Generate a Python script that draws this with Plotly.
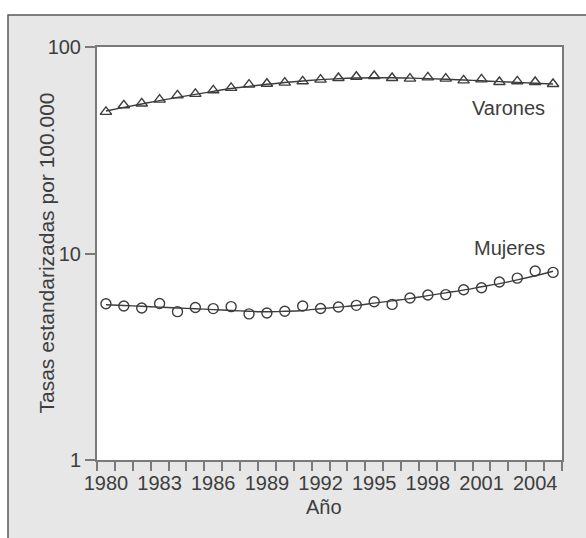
import plotly.graph_objects as go

# Standardised rates per 100,000 by year
years = list(range(1980, 2006))
varones = [48.5, 52.2, 53.3, 55.6, 58.3, 59.3, 61.7, 63.4, 65.7, 66.4, 67.2, 68.2, 69.5,
           70.8, 71.8, 72.4, 70.8, 70.3, 71.3, 70.3, 68.9, 69.7, 67.7, 68.2, 67.7, 66.2]
varones_trend = [49.0, 51.0, 53.0, 55.0, 57.0, 59.0, 61.0, 63.0, 64.5, 66.0, 67.3, 68.5, 69.5,
                 70.3, 70.8, 71.0, 71.0, 70.7, 70.3, 69.8, 69.2, 68.6, 68.0, 67.4, 66.8, 66.2]
mujeres = [5.71, 5.57, 5.45, 5.73, 5.23, 5.48, 5.41, 5.53, 5.10, 5.15, 5.25, 5.57, 5.42,
           5.51, 5.61, 5.84, 5.67, 6.09, 6.30, 6.32, 6.68, 6.83, 7.28, 7.60, 8.23, 8.10]
mujeres_trend = [5.65, 5.60, 5.55, 5.50, 5.45, 5.40, 5.35, 5.30, 5.25, 5.22, 5.25, 5.30, 5.40,
                 5.50, 5.60, 5.75, 5.90, 6.05, 6.25, 6.45, 6.65, 6.90, 7.15, 7.45, 7.80, 8.20]
xtick_years = list(range(1980, 2005, 3))
ytick_vals = [1, 10, 100]
ytick_text = ["1", "10", "100"]

W, H = 586, 538
ML, MR, MT, MB = 97, 24, 47, 78
PW, PH = W - ML - MR, H - MT - MB

INK = "#3d3d3d"
AXIS = "#7a7a7a"
FONT = "Liberation Sans, Arial, sans-serif"
FS = 20


def px_x(p):
    return (p - ML) / PW


def px_y(p):
    return (H - MB - p) / PH


fig = go.Figure()

for vals, trend, sym in [(varones, varones_trend, "triangle-up-open"),
                         (mujeres, mujeres_trend, "circle-open")]:
    fig.add_trace(go.Scatter(x=years, y=trend, mode="lines", line_shape="spline",
                             line=dict(color=INK, width=1.4), hoverinfo="skip",
                             showlegend=False))
    fig.add_trace(go.Scatter(x=years, y=vals, mode="markers",
                             marker=dict(symbol=sym, size=10, color=INK,
                                         line=dict(color=INK, width=1.4)),
                             showlegend=False))

shapes = [
    # grey panel behind the chart
    dict(type="rect", xref="paper", yref="paper", layer="below",
         x0=px_x(8), x1=px_x(W + 20), y0=px_y(H + 20), y1=px_y(15),
         fillcolor="#e7e7e7", line=dict(color="#5a5a5a", width=1.5)),
    # white plotting area
    dict(type="rect", xref="paper", yref="paper", layer="below",
         x0=0, x1=1, y0=0, y1=1, fillcolor="white", line=dict(width=0)),
]

annotations = [
    dict(text="Varones", xref="paper", yref="y", x=px_x(547), y=1.705,
         xanchor="right", yanchor="middle", showarrow=False,
         font=dict(family=FONT, size=FS, color=INK)),
    dict(text="Mujeres", xref="paper", yref="y", x=px_x(547), y=1.028,
         xanchor="right", yanchor="middle", showarrow=False,
         font=dict(family=FONT, size=FS, color=INK)),
    dict(text="Año", xref="paper", yref="paper", x=px_x(324), y=px_y(507),
         xanchor="center", yanchor="middle", showarrow=False,
         font=dict(family=FONT, size=FS, color=INK)),
    dict(text="Tasas estandarizadas por 100.000", xref="paper", yref="paper",
         x=px_x(46), y=0.5, textangle=-90, xanchor="center", yanchor="middle",
         showarrow=False, font=dict(family=FONT, size=21, color=INK)),
]

fig.update_layout(
    width=W, height=H,
    margin=dict(l=ML, r=MR, t=MT, b=MB),
    paper_bgcolor="white", plot_bgcolor="white",
    font=dict(family=FONT, size=FS, color=INK),
    shapes=shapes, annotations=annotations,
)

fig.update_xaxes(
    range=[1979.5, 2005.5], tickmode="array", tickvals=xtick_years,
    ticktext=[str(y) for y in xtick_years], ticks="", showgrid=False, zeroline=False,
    showline=True, linecolor=AXIS, linewidth=2, mirror=True, ticklabelstandoff=4,
    minor=dict(tickmode="linear", tick0=1979.5, dtick=1, ticks="outside",
               ticklen=9, tickcolor=AXIS, tickwidth=1.5, showgrid=False),
    tickfont=dict(family=FONT, size=FS, color=INK),
)
fig.update_yaxes(
    type="log", range=[0, 2], tickmode="array", tickvals=ytick_vals, ticktext=ytick_text,
    ticks="outside", ticklen=10, tickcolor=AXIS, tickwidth=1.5, showgrid=False,
    zeroline=False, showline=True, linecolor=AXIS, linewidth=2, mirror=True,
    tickfont=dict(family=FONT, size=FS, color=INK),
)

fig.write_html("out.html")
